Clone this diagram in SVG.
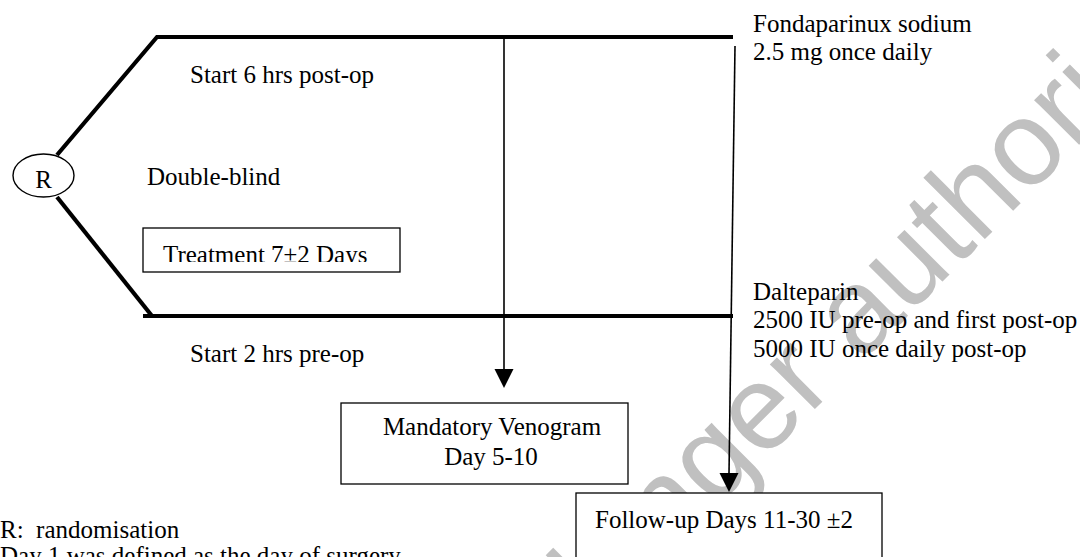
<svg xmlns="http://www.w3.org/2000/svg" width="1080" height="557" viewBox="0 0 1080 557">
<defs>
<style>
.t{font-family:"Liberation Serif","Times New Roman",serif;font-size:25px;fill:#000}
.thick{stroke:#000;stroke-width:4.2;fill:none}
.thin{stroke:#000;stroke-width:1.6;fill:none}
.box{stroke:#000;stroke-width:1.3;fill:#fff}
.wm{font-family:"Liberation Sans",Arial,sans-serif;font-size:120px;fill:#c0c0c0}
</style>
<clipPath id="clipT"><rect x="140" y="225" width="265" height="37"/></clipPath>
</defs>
<rect width="1080" height="557" fill="#fff"/>
<g id="watermark">
<text class="wm" transform="translate(1050,174) rotate(-45)" x="293" y="0" text-anchor="end">Medicinal product no longer authorised</text>
</g>
<g id="arms">
<polyline class="thick" points="733,37 157,37 57,155"/>
<polyline class="thick" points="57,197 152,316"/>
<line class="thick" x1="143" y1="316" x2="733" y2="316"/>
</g>
<g id="connectors">
<line class="thin" x1="504" y1="37" x2="504" y2="370"/>
<path d="M494.5,369 L513.5,369 L504,388 Z" fill="#000"/>
<line class="thin" x1="735" y1="46" x2="729" y2="474"/>
<path d="M719.5,473 L738.5,473 L729,492 Z" fill="#000"/>
</g>
<g id="node-R">
<ellipse cx="43.5" cy="175.5" rx="30.5" ry="21.5" fill="#fff" stroke="#000" stroke-width="1.4"/>
<text class="t" x="43.5" y="188" text-anchor="middle">R</text>
</g>
<g id="labels">
<text class="t" x="190" y="83">Start 6 hrs post-op</text>
<text class="t" x="147" y="185">Double-blind</text>
<text class="t" x="190" y="362">Start 2 hrs pre-op</text>
</g>
<g id="node-treatment">
<rect class="box" x="143" y="228" width="257" height="44"/>
<text class="t" x="163" y="263" clip-path="url(#clipT)">Treatment 7±2 Days</text>
</g>
<g id="node-fondaparinux">
<text class="t" x="753" y="32">Fondaparinux sodium</text>
<text class="t" x="753" y="60">2.5 mg once daily</text>
</g>
<g id="node-dalteparin">
<text class="t" x="753" y="300">Dalteparin</text>
<text class="t" x="753" y="328">2500 IU pre-op and first post-op</text>
<text class="t" x="753" y="357">5000 IU once daily post-op</text>
</g>
<g id="node-venogram">
<rect class="box" x="341" y="403" width="287" height="81"/>
<text class="t" x="492" y="435" text-anchor="middle">Mandatory Venogram</text>
<text class="t" x="491" y="465" text-anchor="middle">Day 5-10</text>
</g>
<g id="node-followup">
<rect class="box" x="576" y="493" width="306" height="80"/>
<text class="t" x="595" y="528">Follow-up Days 11-30 ±2</text>
</g>
<g id="legend">
<text class="t" x="0" y="538" xml:space="preserve">R:  randomisation</text>
<text class="t" x="0" y="564">Day 1 was defined as the day of surgery</text>
</g>
</svg>
